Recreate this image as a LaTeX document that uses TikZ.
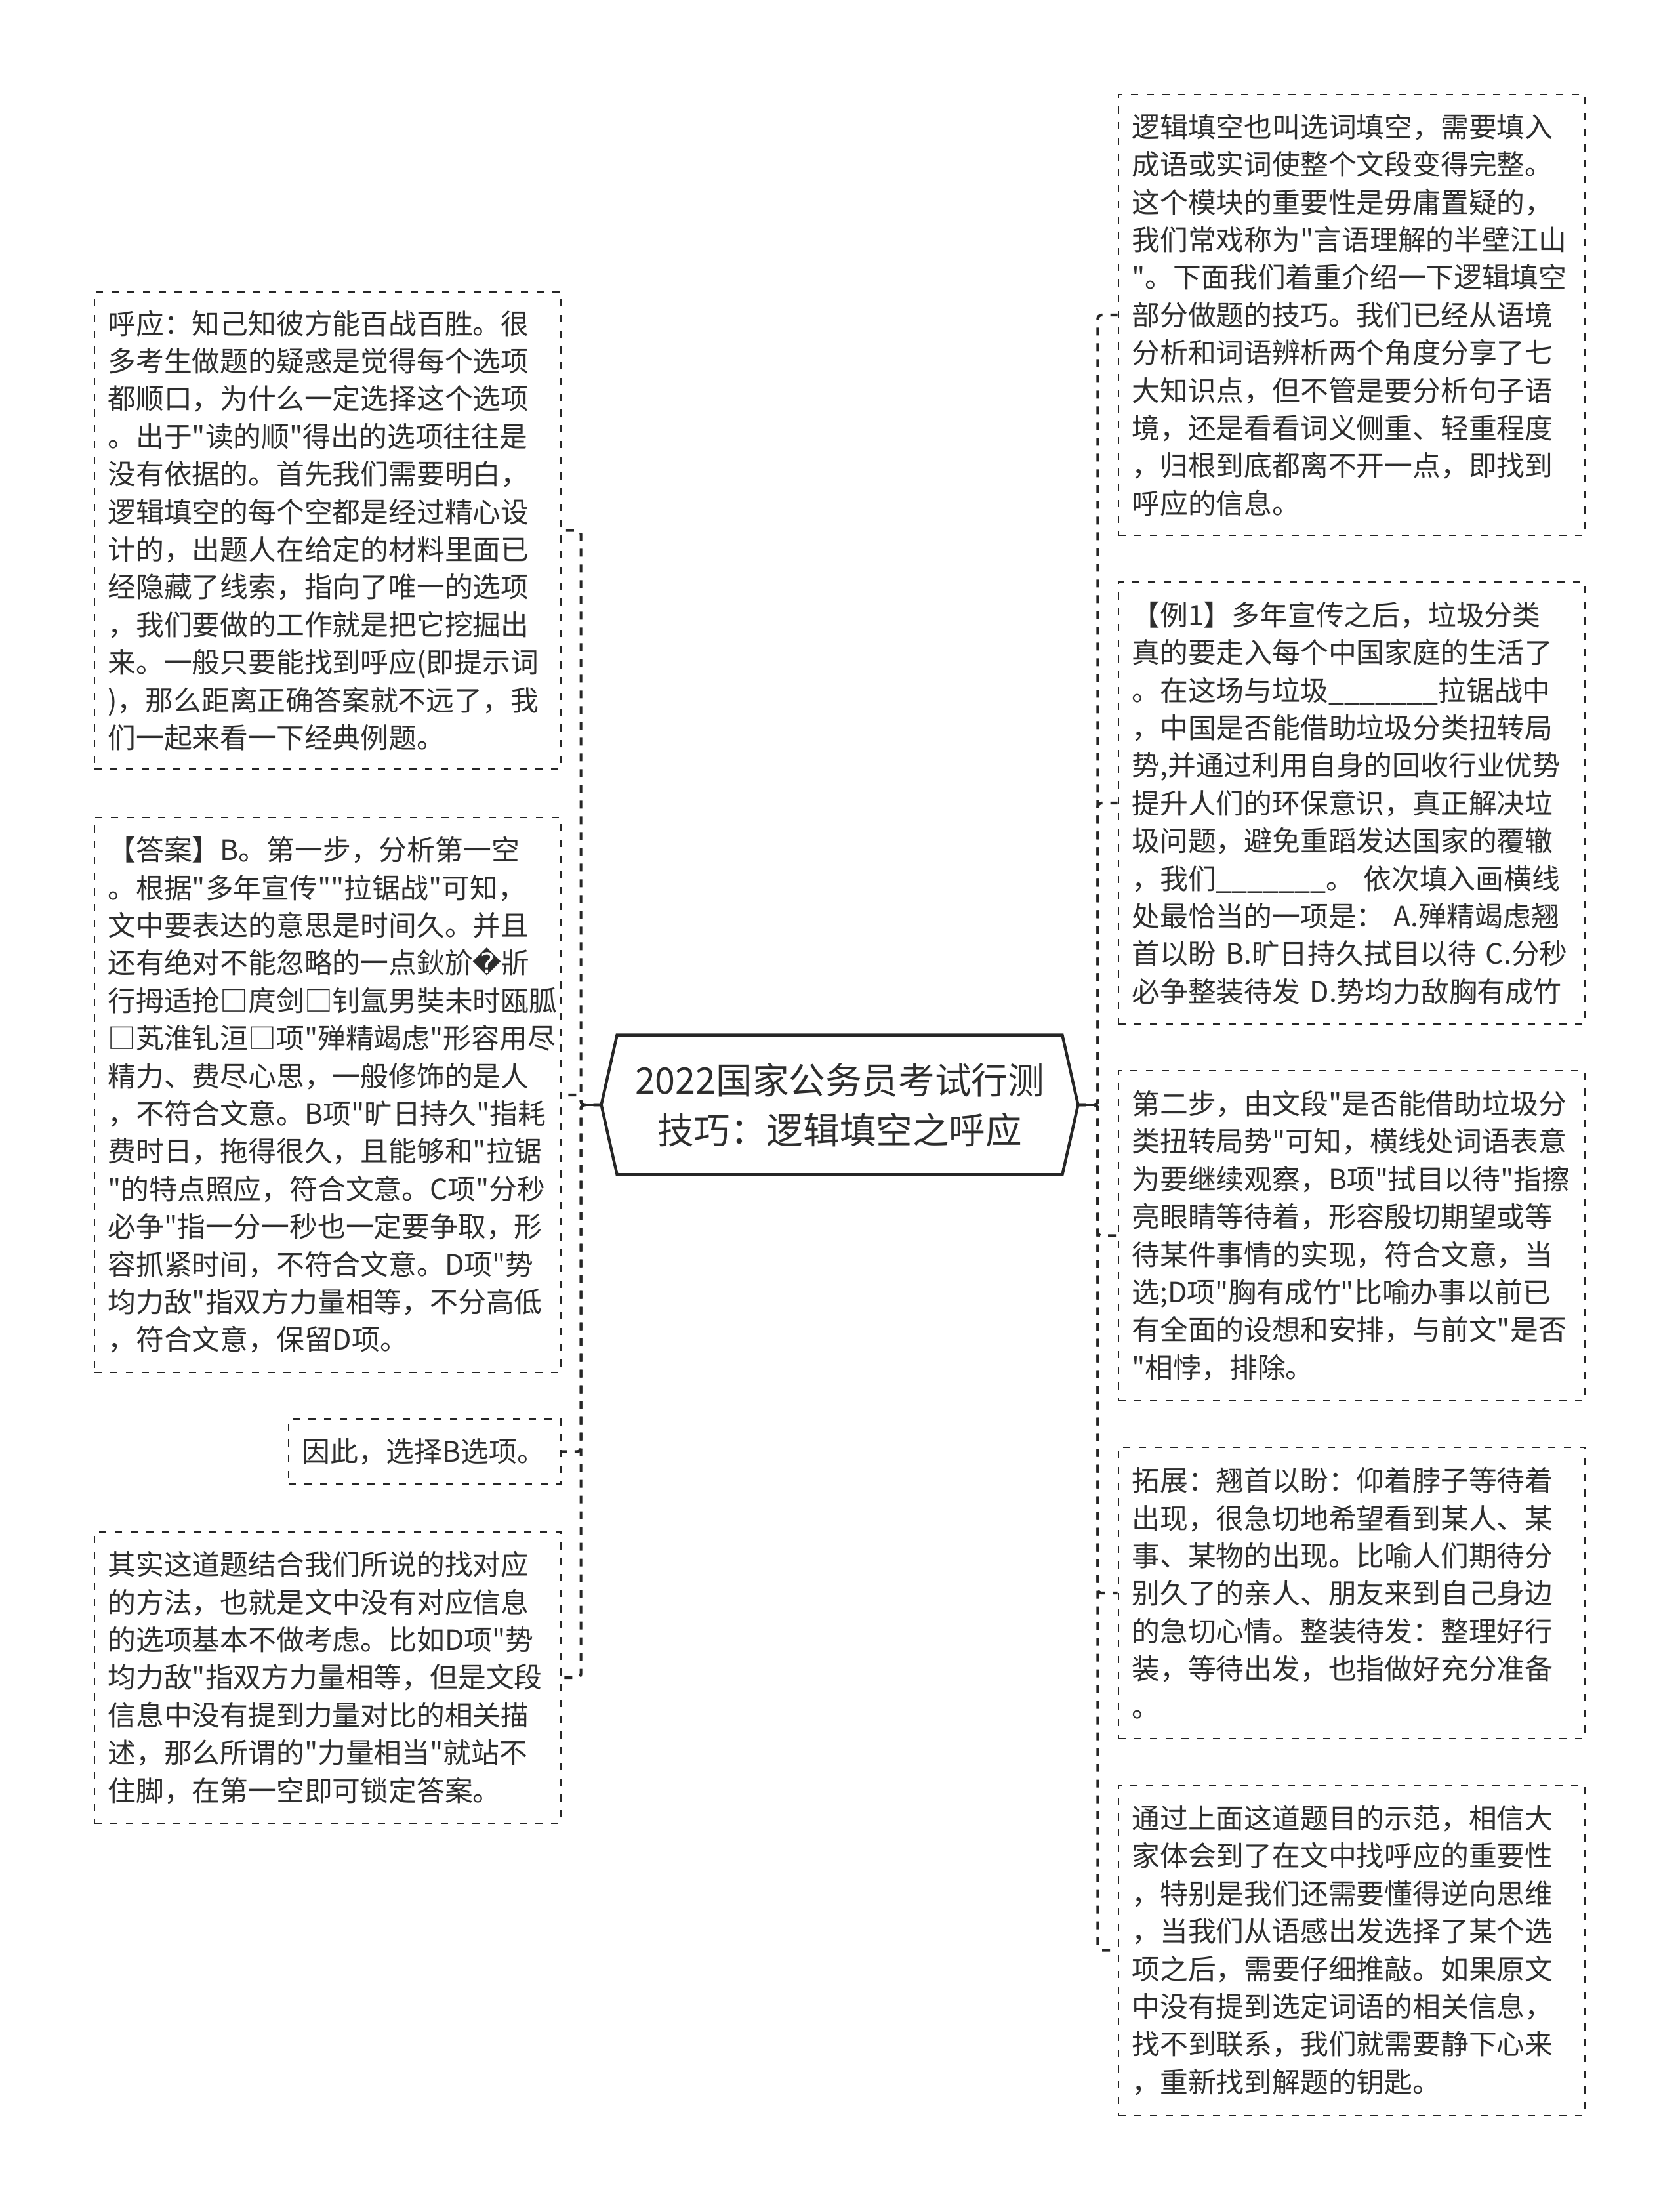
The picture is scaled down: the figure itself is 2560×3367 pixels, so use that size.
\documentclass[tikz,border=0pt]{standalone}
\usepackage{fontspec}
\newfontfamily\cjk{Noto Sans CJK SC}
\newfontfamily\djv{DejaVu Sans}
\usetikzlibrary{calc}
\definecolor{ink}{HTML}{2E2E2E}
\definecolor{edgec}{HTML}{262626}
\setlength\parindent{0pt}
\newcommand\bodyfont{\cjk\fontsize{21.4pt}{28.7pt}\selectfont}
\newcommand\titlefont{\cjk\fontsize{27.8pt}{38pt}\selectfont}
\begin{document}
\begin{tikzpicture}[x=0.5pt,y=-0.5pt]
\tikzset{
  txtbox/.style={draw=edgec, line width=1.4pt, dash pattern=on 5.5pt off 6.5pt,
    text=ink, font=\bodyfont, align=left, text width=335pt, inner xsep=10.25pt,
    inner ysep=0pt, anchor=center},
  conn/.style={draw=edgec, line width=2.1pt, dash pattern=on 6pt off 6pt, rounded corners=3pt},
  stem/.style={draw=edgec, line width=2.1pt},
  hexline/.style={draw=edgec, line width=2.2pt, line join=miter}
}
\fill[white] (0,0) rectangle (2560,3367);
\useasboundingbox (0,0) rectangle (2560,3367);

% root
\node[text=ink, font=\titlefont, align=center, minimum width=339pt, minimum height=106pt, inner sep=0pt] (root) at (1280,1684)
  {2022国家公务员考试行测\\技巧：逻辑填空之呼应};
\coordinate (rootL) at ([xshift=-12pt]root.west);
\coordinate (rootR) at ([xshift=12pt]root.east);
\draw[hexline] (root.north west) -- (root.north east) -- (rootR) -- (root.south east) -- (root.south west) -- (rootL) -- cycle;

% left boxes
\node[txtbox, minimum height=363.5pt] (L1) at (499.5,808.5) {呼应：知己知彼方能百战百胜。很\\多考生做题的疑惑是觉得每个选项\\都顺口，为什么一定选择这个选项\\。出于"读的顺"得出的选项往往是\\没有依据的。首先我们需要明白，\\逻辑填空的每个空都是经过精心设\\计的，出题人在给定的材料里面已\\经隐藏了线索，指向了唯一的选项\\，我们要做的工作就是把它挖掘出\\来。一般只要能找到呼应(即提示词\\)，那么距离正确答案就不远了，我\\们一起来看一下经典例题。};

\node[txtbox, minimum height=423pt] (L2) at (499.5,1669) {【答案】B。第一步，分析第一空\\。根据"多年宣传""拉锯战"可知，\\文中要表达的意思是时间久。并且\\还有绝对不能忽略的一点鈥斺{\djv �}斨\\行拇适抢□庹剑□钊氲男奘未时瓯胍\\□芄淮钆洹□项"殚精竭虑"形容用尽\\精力、费尽心思，一般修饰的是人\\，不符合文意。B项"旷日持久"指耗\\费时日，拖得很久，且能够和"拉锯\\"的特点照应，符合文意。C项"分秒\\必争"指一分一秒也一定要争取，形\\容抓紧时间，不符合文意。D项"势\\均力敌"指双方力量相等，不分高低\\，符合文意，保留D项。};

\node[txtbox, text width=187pt, minimum height=49.5pt] (L3) at (647.5,2212.5) {因此，选择B选项。};

\node[txtbox, minimum height=222pt] (L4) at (499.5,2557) {其实这道题结合我们所说的找对应\\的方法，也就是文中没有对应信息\\的选项基本不做考虑。比如D项"势\\均力敌"指双方力量相等，但是文段\\信息中没有提到力量对比的相关描\\述，那么所谓的"力量相当"就站不\\住脚，在第一空即可锁定答案。};

% right boxes
\node[txtbox, minimum height=336pt] (R1) at (2060.5,480) {逻辑填空也叫选词填空，需要填入\\成语或实词使整个文段变得完整。\\这个模块的重要性是毋庸置疑的，\\我们常戏称为"言语理解的半壁江山\\"。下面我们着重介绍一下逻辑填空\\部分做题的技巧。我们已经从语境\\分析和词语辨析两个角度分享了七\\大知识点，但不管是要分析句子语\\境，还是看看词义侧重、轻重程度\\，归根到底都离不开一点，即找到\\呼应的信息。};

\node[txtbox, minimum height=337pt] (R2) at (2060.5,1224) {【例1】多年宣传之后，垃圾分类\\真的要走入每个中国家庭的生活了\\。在这场与垃圾\_\_\_\_\_\_\_拉锯战中\\，中国是否能借助垃圾分类扭转局\\势,并通过利用自身的回收行业优势\\提升人们的环保意识，真正解决垃\\圾问题，避免重蹈发达国家的覆辙\\，我们\_\_\_\_\_\_\_。~依次填入画横线\\处最恰当的一项是：~A.殚精竭虑翘\\首以盼~B.旷日持久拭目以待~C.分秒\\必争整装待发~D.势均力敌胸有成竹};

\node[txtbox, minimum height=251.5pt] (R3) at (2060.5,1883.5) {第二步，由文段"是否能借助垃圾分\\类扭转局势"可知，横线处词语表意\\为要继续观察，B项"拭目以待"指擦\\亮眼睛等待着，形容殷切期望或等\\待某件事情的实现，符合文意，当\\选;D项"胸有成竹"比喻办事以前已\\有全面的设想和安排，与前文"是否\\"相悖，排除。};

\node[txtbox, minimum height=222pt] (R4) at (2060.5,2428) {拓展：翘首以盼：仰着脖子等待着\\出现，很急切地希望看到某人、某\\事、某物的出现。比喻人们期待分\\别久了的亲人、朋友来到自己身边\\的急切心情。整装待发：整理好行\\装，等待出发，也指做好充分准备\\。};

\node[txtbox, minimum height=251.5pt] (R5) at (2060.5,2972.5) {通过上面这道题目的示范，相信大\\家体会到了在文中找呼应的重要性\\，特别是我们还需要懂得逆向思维\\，当我们从语感出发选择了某个选\\项之后，需要仔细推敲。如果原文\\中没有提到选定词语的相关信息，\\找不到联系，我们就需要静下心来\\，重新找到解题的钥匙。};

% connectors
\foreach \n in {L1,L2,L3,L4} {
  \draw[conn] (rootL) -- ++(-31,0) |- (\n.east);
}
\foreach \n in {R1,R2,R3,R4,R5} {
  \draw[conn] (rootR) -- ++(30,0) |- (\n.west);
}
\draw[stem] (rootL) -- ++(-31,0);
\draw[stem] (rootR) -- ++(30,0);
\end{tikzpicture}
\end{document}
